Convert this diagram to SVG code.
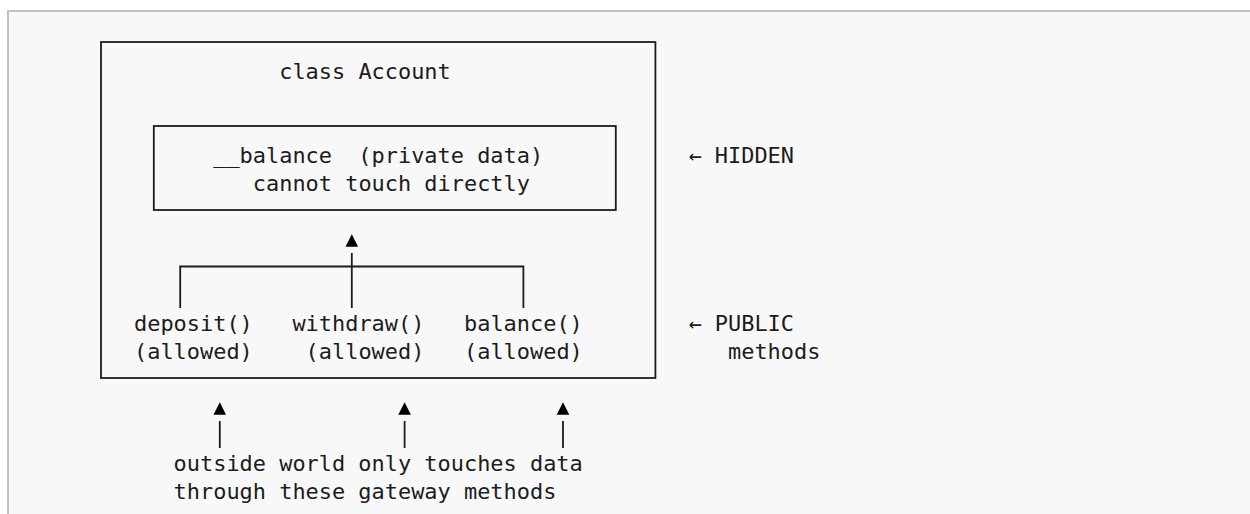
<svg xmlns="http://www.w3.org/2000/svg" width="1250" height="514" viewBox="0 0 1250 514">
  <style>
    .t { font-family: "DejaVu Sans Mono", "Liberation Mono", monospace; font-size: 21.93px; fill: #1c1c1c; white-space: pre; }
    .box { fill: none; stroke: #1c1c1c; stroke-width: 1.8; }
    .ln { fill: none; stroke: #1c1c1c; stroke-width: 1.8; }
  </style>
  <defs>
    <marker id="arr" markerUnits="userSpaceOnUse" viewBox="0 -8 20 16" markerWidth="20" markerHeight="16" refX="0" refY="0" orient="auto" overflow="visible">
      <path d="M6.3,-6.3 L18.7,0 L6.3,6.3 Z" fill="#000"/>
    </marker>
  </defs>

  <rect x="0" y="0" width="1250" height="514" fill="#ffffff"/>
  <g id="panel">
    <rect x="8" y="11" width="1242" height="503" fill="#f8f8f8"/>
    <line x1="7" y1="11" x2="1250" y2="11" stroke="#c2c2c2" stroke-width="2"/>
    <line x1="8" y1="11" x2="8" y2="514" stroke="#c2c2c2" stroke-width="2"/>
  </g>

  <g id="account">
    <rect class="box" x="101" y="42" width="554.4" height="336"/>
    <text class="t" x="279.2" y="79">class Account</text>
  </g>

  <g id="private-balance">
    <rect class="box" x="153.8" y="126" width="462" height="84"/>
    <text class="t" x="213.2" y="163" xml:space="preserve">__balance  (private data)</text>
    <text class="t" x="252.8" y="191">cannot touch directly</text>
  </g>

  <g id="deposit">
    <text class="t" x="134" y="331">deposit()</text>
    <text class="t" x="134" y="359">(allowed)</text>
  </g>
  <g id="withdraw">
    <text class="t" x="292.4" y="331">withdraw()</text>
    <text class="t" x="305.6" y="359">(allowed)</text>
  </g>
  <g id="balance-method">
    <text class="t" x="464" y="331">balance()</text>
    <text class="t" x="464" y="359">(allowed)</text>
  </g>

  <g id="label-hidden">
    <text class="t" x="688.4" y="163">← HIDDEN</text>
  </g>
  <g id="label-public">
    <text class="t" x="688.4" y="331">← PUBLIC</text>
    <text class="t" x="728" y="359">methods</text>
  </g>

  <g id="outside-note">
    <text class="t" x="173.6" y="471">outside world only touches data</text>
    <text class="t" x="173.6" y="499">through these gateway methods</text>
  </g>

  <g id="connectors">
    <path class="ln" d="M180.2,308 V266.5 H523.4 V308"/>
    <line class="ln" x1="351.8" y1="308" x2="351.8" y2="253" marker-end="url(#arr)"/>
    <line class="ln" x1="219.8" y1="448" x2="219.8" y2="421" marker-end="url(#arr)"/>
    <line class="ln" x1="404.6" y1="448" x2="404.6" y2="421" marker-end="url(#arr)"/>
    <line class="ln" x1="563" y1="448" x2="563" y2="421" marker-end="url(#arr)"/>
  </g>
</svg>
